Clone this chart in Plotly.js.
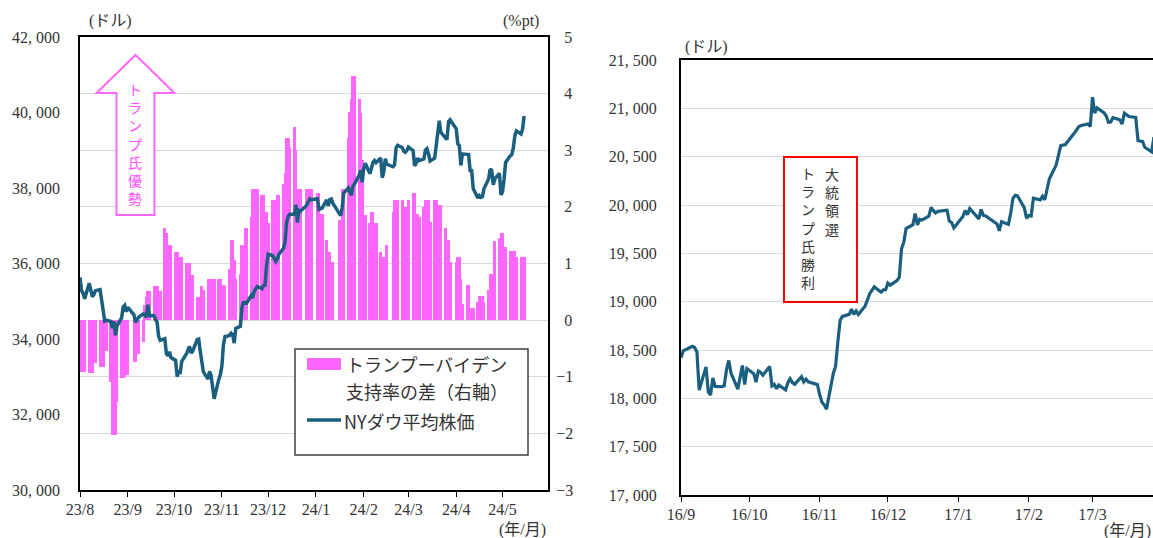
<!DOCTYPE html>
<html>
<head>
<meta charset="utf-8">
<script src="https://cdn.plot.ly/plotly-3.0.1.min.js"></script>
<style>
  html, body { margin: 0; padding: 0; overflow: hidden; background: #ffffff; }
  #chart { width: 1180px; height: 538px; }
</style>
</head>
<body>
<div id="chart"></div>
<script>
// ---------- 2023/8 - 2024/5 : NY Dow close and Trump minus Biden support (trading days) ----------
const tradeDays2324 = [
  '2023-08-01','2023-08-02','2023-08-03','2023-08-04','2023-08-07','2023-08-08','2023-08-09','2023-08-10','2023-08-11','2023-08-14','2023-08-15','2023-08-16','2023-08-17','2023-08-18','2023-08-21','2023-08-22','2023-08-23','2023-08-24','2023-08-25','2023-08-28','2023-08-29','2023-08-30','2023-08-31',
  '2023-09-01','2023-09-05','2023-09-06','2023-09-07','2023-09-08','2023-09-11','2023-09-12','2023-09-13','2023-09-14','2023-09-15','2023-09-18','2023-09-19','2023-09-20','2023-09-21','2023-09-22','2023-09-25','2023-09-26','2023-09-27','2023-09-28','2023-09-29',
  '2023-10-02','2023-10-03','2023-10-04','2023-10-05','2023-10-06','2023-10-09','2023-10-10','2023-10-11','2023-10-12','2023-10-13','2023-10-16','2023-10-17','2023-10-18','2023-10-19','2023-10-20','2023-10-23','2023-10-24','2023-10-25','2023-10-26','2023-10-27','2023-10-30','2023-10-31',
  '2023-11-01','2023-11-02','2023-11-03','2023-11-06','2023-11-07','2023-11-08','2023-11-09','2023-11-10','2023-11-13','2023-11-14','2023-11-15','2023-11-16','2023-11-17','2023-11-20','2023-11-21','2023-11-22','2023-11-24','2023-11-27','2023-11-28','2023-11-29','2023-11-30',
  '2023-12-01','2023-12-04','2023-12-05','2023-12-06','2023-12-07','2023-12-08','2023-12-11','2023-12-12','2023-12-13','2023-12-14','2023-12-15','2023-12-18','2023-12-19','2023-12-20','2023-12-21','2023-12-22','2023-12-26','2023-12-27','2023-12-28','2023-12-29',
  '2024-01-02','2024-01-03','2024-01-04','2024-01-05','2024-01-08','2024-01-09','2024-01-10','2024-01-11','2024-01-12','2024-01-16','2024-01-17','2024-01-18','2024-01-19','2024-01-22','2024-01-23','2024-01-24','2024-01-25','2024-01-26','2024-01-29','2024-01-30','2024-01-31',
  '2024-02-01','2024-02-02','2024-02-05','2024-02-06','2024-02-07','2024-02-08','2024-02-09','2024-02-12','2024-02-13','2024-02-14','2024-02-15','2024-02-16','2024-02-20','2024-02-21','2024-02-22','2024-02-23','2024-02-26','2024-02-27','2024-02-28','2024-02-29',
  '2024-03-01','2024-03-04','2024-03-05','2024-03-06','2024-03-07','2024-03-08','2024-03-11','2024-03-12','2024-03-13','2024-03-14','2024-03-15','2024-03-18','2024-03-19','2024-03-20','2024-03-21','2024-03-22','2024-03-25','2024-03-26','2024-03-27','2024-03-28',
  '2024-04-01','2024-04-02','2024-04-03','2024-04-04','2024-04-05','2024-04-08','2024-04-09','2024-04-10','2024-04-11','2024-04-12','2024-04-15','2024-04-16','2024-04-17','2024-04-18','2024-04-19','2024-04-22','2024-04-23','2024-04-24','2024-04-25','2024-04-26','2024-04-29','2024-04-30',
  '2024-05-01','2024-05-02','2024-05-03','2024-05-06','2024-05-07','2024-05-08','2024-05-09','2024-05-10','2024-05-13','2024-05-14','2024-05-15'
];

// NY Dow close (USD)
const dowClose2324 = [
  35630,35283,35216,35066,35474,35314,35123,35176,35281,35308,34946,34766,34474,34501,34464,34288,34473,34100,34347,34560,34853,34891,34722,
  34838,34642,34443,34501,34577,34664,34646,34576,34907,34618,34624,34518,34441,34070,33964,34007,33619,33551,33667,33508,
  33433,33002,33130,33120,33408,33605,33740,33805,33632,33671,33985,33998,33666,33415,33127,32937,33141,33036,32785,32418,32929,33053,
  33275,33840,34061,34096,34153,34112,33892,34283,34338,34828,34992,34946,34947,35151,35088,35273,35390,35333,35417,35430,35951,
  36246,36204,36125,36054,36117,36248,36405,36577,37090,37248,37306,37307,37558,37083,37405,37386,37545,37657,37711,37690,
  37715,37430,37440,37466,37683,37525,37696,37711,37593,37361,37267,37469,37864,38001,37906,37807,38050,38109,38333,38467,38150,
  38520,38654,38380,38521,38677,38726,38672,38797,38273,38424,38773,38628,38564,38612,39069,39131,39069,38972,38949,38996,
  39087,38990,38585,38661,38791,38723,38770,39005,39043,38906,38715,38790,39110,39512,39781,39476,39314,39282,39760,39807,
  39567,39170,39127,38597,38904,38892,38884,38462,38459,37983,37735,37799,37753,37775,37986,38240,38504,38461,38086,38240,38386,37816,
  37903,38226,38676,38852,38884,39056,39388,39513,39432,39558,39908
];

// Trump minus Biden support (%pt)
const pollGap2324 = [
  -0.92,-0.92,-0.92,-0.92,-0.93,-0.93,-0.93,-0.75,-0.75,-0.83,-0.83,-0.83,-0.55,-0.55,-1.10,-2.03,-2.03,-2.03,-1.45,-1.03,-1.03,-1.00,-0.97,
  -0.97,-0.74,-0.74,-0.59,-0.59,-0.38,0.26,0.41,0.52,0.52,0.60,0.60,0.60,0.52,0.52,1.62,1.53,1.32,1.32,1.32,
  1.21,1.21,1.12,1.12,1.12,1.01,1.01,1.01,0.80,0.80,0.41,0.41,0.12,0.60,0.53,0.72,0.72,0.72,0.72,0.72,0.72,0.72,
  0.62,0.62,0.60,0.91,1.41,1.41,1.06,0.72,0.82,1.32,1.32,1.62,1.62,1.82,2.32,2.32,2.32,2.21,2.21,1.91,1.91,
  1.71,2.12,2.12,2.12,2.21,2.21,2.41,2.59,3.21,3.21,3.06,3.41,3.00,2.32,2.32,2.32,2.32,2.32,2.32,2.32,
  2.24,2.24,1.88,1.88,1.41,1.21,1.21,1.03,1.03,1.76,1.76,2.32,2.32,3.21,3.68,3.91,4.32,4.32,3.91,3.65,2.82,
  1.85,1.85,1.71,1.91,1.91,1.71,1.71,1.21,1.12,1.12,1.12,1.32,1.91,2.12,2.12,2.12,2.12,2.00,2.00,2.00,
  2.12,2.24,2.24,1.88,1.88,1.82,2.00,2.12,2.12,2.12,1.74,2.12,2.12,2.03,2.03,2.03,1.62,1.41,1.41,1.03,
  1.03,1.12,1.12,0.72,0.29,0.62,0.62,0.22,0.22,0.22,0.32,0.42,0.42,0.42,0.32,0.53,0.81,0.81,0.81,1.40,1.45,1.53,
  1.53,1.29,1.29,1.22,1.22,1.22,1.22,1.12,1.12,1.12,1.12
];

// ---------- 2016/9 - 2017/3 : NY Dow close around the 2016 election ----------
const tradeDays1617 = [
  '2016-09-01','2016-09-02','2016-09-06','2016-09-07','2016-09-08','2016-09-09','2016-09-12','2016-09-13','2016-09-14','2016-09-15','2016-09-16','2016-09-19','2016-09-20','2016-09-21','2016-09-22','2016-09-23','2016-09-26','2016-09-27','2016-09-28','2016-09-29','2016-09-30',
  '2016-10-03','2016-10-04','2016-10-05','2016-10-06','2016-10-07','2016-10-10','2016-10-11','2016-10-12','2016-10-13','2016-10-14','2016-10-17','2016-10-18','2016-10-19','2016-10-20','2016-10-21','2016-10-24','2016-10-25','2016-10-26','2016-10-27','2016-10-28','2016-10-31',
  '2016-11-01','2016-11-02','2016-11-03','2016-11-04','2016-11-07','2016-11-08','2016-11-09','2016-11-10','2016-11-11','2016-11-14','2016-11-15','2016-11-16','2016-11-17','2016-11-18','2016-11-21','2016-11-22','2016-11-23','2016-11-25','2016-11-28','2016-11-29','2016-11-30',
  '2016-12-01','2016-12-02','2016-12-05','2016-12-06','2016-12-07','2016-12-08','2016-12-09','2016-12-12','2016-12-13','2016-12-14','2016-12-15','2016-12-16','2016-12-19','2016-12-20','2016-12-21','2016-12-22','2016-12-23','2016-12-27','2016-12-28','2016-12-29','2016-12-30',
  '2017-01-03','2017-01-04','2017-01-05','2017-01-06','2017-01-09','2017-01-10','2017-01-11','2017-01-12','2017-01-13','2017-01-17','2017-01-18','2017-01-19','2017-01-20','2017-01-23','2017-01-24','2017-01-25','2017-01-26','2017-01-27','2017-01-30','2017-01-31',
  '2017-02-01','2017-02-02','2017-02-03','2017-02-06','2017-02-07','2017-02-08','2017-02-09','2017-02-10','2017-02-13','2017-02-14','2017-02-15','2017-02-16','2017-02-17','2017-02-21','2017-02-22','2017-02-23','2017-02-24','2017-02-27','2017-02-28',
  '2017-03-01','2017-03-02','2017-03-03','2017-03-06','2017-03-07','2017-03-08','2017-03-09','2017-03-10','2017-03-13','2017-03-14','2017-03-15','2017-03-16','2017-03-17','2017-03-20','2017-03-21','2017-03-22','2017-03-23','2017-03-24','2017-03-27','2017-03-28','2017-03-29','2017-03-30','2017-03-31'
];

const dowClose1617 = [
  18419,18492,18538,18526,18480,18085,18325,18067,18035,18212,18124,18120,18130,18294,18392,18261,18095,18228,18339,18143,18308,
  18254,18168,18281,18269,18240,18329,18129,18145,18099,18138,18087,18162,18203,18163,18145,18223,18169,18199,18170,18161,18142,
  18037,17960,17931,17888,18260,18332,18590,18808,18848,18869,18923,18868,18904,18868,18956,19024,19083,19153,19098,19122,19124,
  19192,19171,19217,19252,19549,19615,19757,19797,19912,19793,19853,19844,19884,19975,19942,19918,19934,19946,19834,19820,19763,
  19882,19943,19900,19964,19887,19856,19954,19892,19886,19826,19804,19733,19827,19799,19913,20069,20101,20094,19971,19864,
  19891,19885,20071,20053,20090,20054,20172,20269,20413,20505,20612,20620,20624,20744,20776,20811,20822,20838,20812,
  21115,20951,21005,20954,20924,20855,20858,20903,20881,20837,20950,20934,20915,20906,20668,20661,20657,20597,20550,20701,20659,20728,20663
];

// ---------- axis ticks and labels ----------
const monthTicks2324  = ['2023-08-01','2023-09-01','2023-10-01','2023-11-01','2023-12-01','2024-01-01','2024-02-01','2024-03-01','2024-04-01','2024-05-01'];
const monthLabels2324 = ['23/8','23/9','23/10','23/11','23/12','24/1','24/2','24/3','24/4','24/5'];
const monthTicks1617  = ['2016-09-01','2016-10-01','2016-11-01','2016-12-01','2017-01-01','2017-02-01','2017-03-01'];
const monthLabels1617 = ['16/9','16/10','16/11','16/12','17/1','17/2','17/3'];

const dowTicks2324  = [30000,32000,34000,36000,38000,40000,42000];
const dowLabels2324 = ['30, 000','32, 000','34, 000','36, 000','38, 000','40, 000','42, 000'];
const gapTicks  = [-3,-2,-1,0,1,2,3,4,5];
const gapLabels = ['\u22123','\u22122','\u22121','\u20020','\u20021','\u20022','\u20023','\u20024','\u20025'];
const dowTicks1617  = [17000,17500,18000,18500,19000,19500,20000,20500,21000,21500];
const dowLabels1617 = ['17, 000','17, 500','18, 000','18, 500','19, 000','19, 500','20, 000','20, 500','21, 000','21, 500'];

const barName  = ['トランプーバイデン', '支持率の差（右軸）'];
const lineName = 'NYダウ平均株価';
const trumpAhead = 'トランプ氏優勢';
const noteLines  = ['大統領選', 'トランプ氏勝利'];

// ---------- styling ----------
const PINK = '#FF66FF';
const DOW  = '#1B5F80';
const GRID = '#D9D9D9';
const TXT  = '#333333';
const W = 1180, H = 538;
const fx = p => p / W;          // page pixel -> paper x
const fy = p => 1 - p / H;      // page pixel -> paper y
const DAY = 86400000;

const SERIF = 'Liberation Serif, DejaVu Serif, Noto Sans CJK JP, serif';
const JP    = 'Noto Sans CJK JP, sans-serif';
const tickFont = { family: SERIF, size: 16, color: TXT };

const traces = [
  {
    type: 'bar', x: tradeDays2324, y: pollGap2324, xaxis: 'x', yaxis: 'y',
    marker: { color: PINK, line: { width: 0 } }, width: 1.9 * DAY,
    hoverinfo: 'skip', showlegend: false
  },
  {
    type: 'scatter', mode: 'lines', x: tradeDays2324, y: dowClose2324, xaxis: 'x', yaxis: 'y2',
    line: { color: DOW, width: 3.5 }, hoverinfo: 'skip', showlegend: false
  },
  {
    type: 'scatter', mode: 'lines', x: tradeDays1617, y: dowClose1617, xaxis: 'x2', yaxis: 'y3',
    line: { color: DOW, width: 3.2 }, hoverinfo: 'skip', showlegend: false
  }
];

function dateAxis(domainPx, range, vals, text, anchor) {
  return {
    domain: [fx(domainPx[0]), fx(domainPx[1])], anchor: anchor, type: 'date', range: range,
    tickmode: 'array', tickvals: vals, ticktext: text, tickfont: tickFont,
    ticks: 'outside', ticklen: 5, tickwidth: 1, tickcolor: '#000', ticklabelstandoff: -1,
    showline: true, linecolor: '#000', linewidth: 2, mirror: true,
    showgrid: false, zeroline: false, fixedrange: true
  };
}

// vertical Japanese text: one character per line
function vertical(str, xPx, yCenterPx, size, color) {
  return {
    text: Array.from(str).join('<br>'), x: fx(xPx), y: fy(yCenterPx), xref: 'paper', yref: 'paper',
    xanchor: 'center', yanchor: 'middle', align: 'center', showarrow: false,
    font: { family: JP, size: size, color: color }
  };
}

function label(text, xPx, yPx, anchor, font) {
  return { text: text, x: fx(xPx), y: fy(yPx), xref: 'paper', yref: 'paper',
           xanchor: anchor, yanchor: 'middle', align: 'left', showarrow: false, font: font };
}

// outlined up-arrow
const arrowPts = [[135.5,55],[174.5,93],[154.5,93],[154.5,215],[116.5,215],[116.5,93],[96.5,93]];
const arrowPath = 'M ' + arrowPts.map(p => fx(p[0]) + ',' + fy(p[1])).join(' L ') + ' Z';

const shapes = [
  { type: 'path', path: arrowPath, xref: 'paper', yref: 'paper',
    line: { color: PINK, width: 2 }, fillcolor: '#ffffff', layer: 'above' },
  // legend box and keys
  { type: 'rect', xref: 'paper', yref: 'paper', x0: fx(295), x1: fx(528), y0: fy(455), y1: fy(349),
    line: { color: '#404040', width: 1.5 }, fillcolor: '#ffffff', layer: 'above' },
  { type: 'rect', xref: 'paper', yref: 'paper', x0: fx(307), x1: fx(341), y0: fy(370), y1: fy(358),
    line: { width: 0 }, fillcolor: PINK, layer: 'above' },
  { type: 'line', xref: 'paper', yref: 'paper', x0: fx(307), x1: fx(341), y0: fy(420), y1: fy(420),
    line: { color: DOW, width: 3.5 }, layer: 'above' },
  // election note box
  { type: 'rect', xref: 'paper', yref: 'paper', x0: fx(784), x1: fx(857), y0: fy(302), y1: fy(157),
    line: { color: '#FF0000', width: 2 }, fillcolor: '#ffffff', layer: 'above' }
];

const unitFont   = { family: SERIF, size: 16, color: TXT };
const legendFont = { family: JP, size: 18, color: TXT };

const annotations = [
  label('(ドル)', 110, 21, 'center', unitFont),
  label('(%pt)', 521, 21, 'center', unitFont),
  label('(年/月)', 522, 530, 'center', unitFont),
  label('(ドル)', 706, 47, 'center', unitFont),
  label('(年/月)', 1127, 531, 'center', unitFont),
  label(barName[0], 344, 363.5, 'left', legendFont),
  label(barName[1], 344, 390.5, 'left', legendFont),
  label(lineName, 342, 421, 'left', legendFont),
  vertical(trumpAhead, 135, 143, 14, '#FF4DFF'),
  vertical(noteLines[0], 832, 201, 14, TXT),
  vertical(noteLines[1], 808, 227, 14, TXT)
];

const layout = {
  width: W, height: H,
  margin: { l: 0, r: 0, t: 0, b: 0 },
  paper_bgcolor: '#ffffff', plot_bgcolor: '#ffffff',
  showlegend: false, bargap: 0,
  font: tickFont,
  xaxis: dateAxis([80, 548], ['2023-08-01', '2024-05-30 12:00'], monthTicks2324, monthLabels2324, 'y'),
  yaxis: {
    domain: [fy(490), fy(37)], anchor: 'x', side: 'right', range: [-3, 5],
    tickmode: 'array', tickvals: gapTicks, ticktext: gapLabels, tickfont: tickFont,
    ticks: '', ticklabelstandoff: 3,
    showgrid: true, gridcolor: GRID, gridwidth: 1, zeroline: false,
    showline: true, linecolor: '#000', linewidth: 2, mirror: true, fixedrange: true
  },
  yaxis2: {
    overlaying: 'y', anchor: 'x', side: 'left', range: [30000, 42000],
    tickmode: 'array', tickvals: dowTicks2324, ticktext: dowLabels2324, tickfont: tickFont,
    ticks: '', ticklabelstandoff: 19,
    showgrid: false, zeroline: false, showline: false, fixedrange: true
  },
  xaxis2: dateAxis([681, 1163], ['2016-09-01', '2017-04-01'], monthTicks1617, monthLabels1617, 'y3'),
  yaxis3: {
    domain: [fy(495), fy(60)], anchor: 'x2', range: [17000, 21500],
    tickmode: 'array', tickvals: dowTicks1617, ticktext: dowLabels1617, tickfont: tickFont,
    ticks: '', ticklabelstandoff: 19,
    showgrid: true, gridcolor: GRID, gridwidth: 1, zeroline: false,
    showline: true, linecolor: '#000', linewidth: 2, mirror: true, fixedrange: true
  },
  shapes: shapes,
  annotations: annotations
};

Plotly.newPlot('chart', traces, layout, { staticPlot: true, displayModeBar: false });
</script>
</body>
</html>
